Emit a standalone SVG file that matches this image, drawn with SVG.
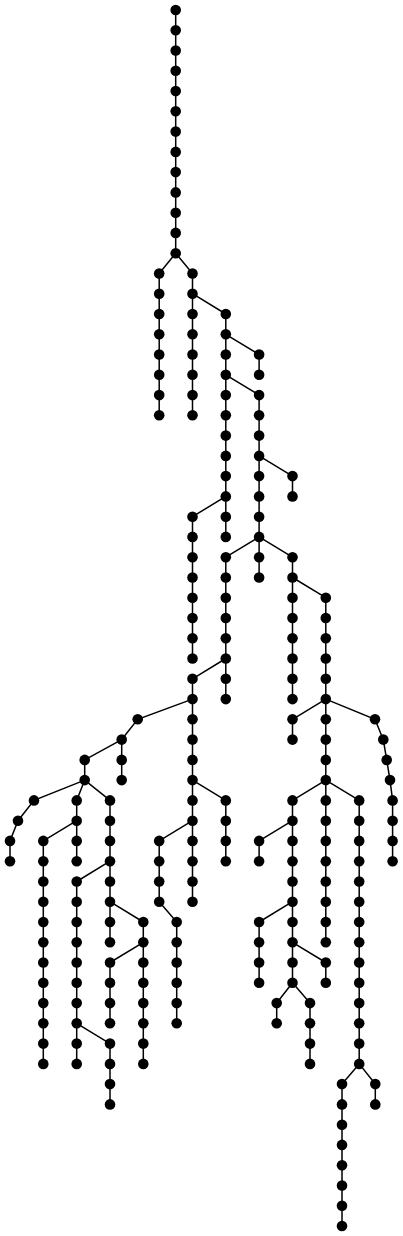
<svg xmlns="http://www.w3.org/2000/svg" width="403" height="1236" viewBox="0 0 403 1236">
<style>
.e path{fill:none;stroke:#000;stroke-width:1.5}
.n circle{fill:#000}
</style>
<rect width="403" height="1236" fill="#fff"/>
<g id="connectors" class="e">
<path d="M175.7,10 V253.2"/>
<path d="M175.7,253.2 L159.2,273.5 V415.3"/>
<path d="M175.7,253.2 L192.5,273.5 V415.3"/>
<path d="M192.5,293.7 L225.8,314 V536.9"/>
<path d="M225.8,334.3 L259.1,354.5 V374.8"/>
<path d="M225.8,374.8 L259.1,395.1 V577.5"/>
<path d="M259.1,455.9 L292.5,476.1 V496.4"/>
<path d="M225.8,496.4 L192.5,516.7 V658.5"/>
<path d="M259.1,536.9 L225.8,557.2 V699.1"/>
<path d="M259.1,536.9 L292.5,557.2 V699.1"/>
<path d="M292.5,577.5 L325.8,597.7 V942.3"/>
<path d="M225.8,658.5 L192.5,678.8 V901.7"/>
<path d="M192.5,780.1 L225.8,800.4 V861.2"/>
<path d="M192.5,820.7 L159.2,840.9 V901.7"/>
<path d="M159.2,901.7 L176.7,922 V1023.3"/>
<path d="M192.5,699.1 L137.7,719.3 L121.7,739.6 V780.1"/>
<path d="M121.7,739.6 L84.7,759.9 V780.1"/>
<path d="M84.7,780.1 L34,800.4 L18,820.7 L10,840.9 V861.2"/>
<path d="M84.7,780.1 L76.7,800.4 V861.2"/>
<path d="M76.7,820.7 L43.3,840.9 V1063.9"/>
<path d="M84.7,780.1 L110,800.4 V942.3"/>
<path d="M110,861.2 L76.7,881.5 V1063.9"/>
<path d="M110,901.7 L143.3,922 V1063.9"/>
<path d="M143.3,942.3 L110,962.5 V1023.3"/>
<path d="M76.7,1023.3 L110,1043.6 V1104.4"/>
<path d="M325.8,699.1 L292.5,719.3 V739.6"/>
<path d="M325.8,699.1 L375,719.3 L383.3,739.6 L386.7,759.9 L390,780.1 L392.6,800.4 V861.2"/>
<path d="M325.8,780.1 L292.5,800.4 V982.8"/>
<path d="M325.8,780.1 L359.2,800.4 V1063.9"/>
<path d="M292.5,820.7 L259.1,840.9 V861.2"/>
<path d="M292.5,901.7 L259.1,922 V982.8"/>
<path d="M292.5,942.3 L325.8,962.5 V982.8"/>
<path d="M292.5,982.8 L276.7,1003.1 V1023.3"/>
<path d="M292.5,982.8 L310,1003.1 V1063.9"/>
<path d="M359.2,1063.9 L342,1084.1 V1226"/>
<path d="M359.2,1063.9 L375.3,1084.1 V1104.4"/>
</g>
<g id="nodes" class="n">
<g id="n1"><circle cx="175.7" cy="10" r="5.3"/></g>
<g id="n2"><circle cx="175.7" cy="30.3" r="5.3"/></g>
<g id="n3"><circle cx="175.7" cy="50.5" r="5.3"/></g>
<g id="n4"><circle cx="175.7" cy="70.8" r="5.3"/></g>
<g id="n5"><circle cx="175.7" cy="91.1" r="5.3"/></g>
<g id="n6"><circle cx="175.7" cy="111.3" r="5.3"/></g>
<g id="n7"><circle cx="175.7" cy="131.6" r="5.3"/></g>
<g id="n8"><circle cx="175.7" cy="151.9" r="5.3"/></g>
<g id="n9"><circle cx="175.7" cy="172.1" r="5.3"/></g>
<g id="n10"><circle cx="175.7" cy="192.4" r="5.3"/></g>
<g id="n11"><circle cx="175.7" cy="212.7" r="5.3"/></g>
<g id="n12"><circle cx="175.7" cy="232.9" r="5.3"/></g>
<g id="n13"><circle cx="175.7" cy="253.2" r="5.3"/></g>
<g id="n14"><circle cx="159.2" cy="273.5" r="5.3"/></g>
<g id="n15"><circle cx="159.2" cy="293.7" r="5.3"/></g>
<g id="n16"><circle cx="159.2" cy="314" r="5.3"/></g>
<g id="n17"><circle cx="159.2" cy="334.3" r="5.3"/></g>
<g id="n18"><circle cx="159.2" cy="354.5" r="5.3"/></g>
<g id="n19"><circle cx="159.2" cy="374.8" r="5.3"/></g>
<g id="n20"><circle cx="159.2" cy="395.1" r="5.3"/></g>
<g id="n21"><circle cx="159.2" cy="415.3" r="5.3"/></g>
<g id="n22"><circle cx="192.5" cy="273.5" r="5.3"/></g>
<g id="n23"><circle cx="192.5" cy="293.7" r="5.3"/></g>
<g id="n24"><circle cx="192.5" cy="314" r="5.3"/></g>
<g id="n25"><circle cx="192.5" cy="334.3" r="5.3"/></g>
<g id="n26"><circle cx="192.5" cy="354.5" r="5.3"/></g>
<g id="n27"><circle cx="192.5" cy="374.8" r="5.3"/></g>
<g id="n28"><circle cx="192.5" cy="395.1" r="5.3"/></g>
<g id="n29"><circle cx="192.5" cy="415.3" r="5.3"/></g>
<g id="n30"><circle cx="225.8" cy="314" r="5.3"/></g>
<g id="n31"><circle cx="225.8" cy="334.3" r="5.3"/></g>
<g id="n32"><circle cx="225.8" cy="354.5" r="5.3"/></g>
<g id="n33"><circle cx="225.8" cy="374.8" r="5.3"/></g>
<g id="n34"><circle cx="225.8" cy="395.1" r="5.3"/></g>
<g id="n35"><circle cx="225.8" cy="415.3" r="5.3"/></g>
<g id="n36"><circle cx="225.8" cy="435.6" r="5.3"/></g>
<g id="n37"><circle cx="225.8" cy="455.9" r="5.3"/></g>
<g id="n38"><circle cx="225.8" cy="476.1" r="5.3"/></g>
<g id="n39"><circle cx="225.8" cy="496.4" r="5.3"/></g>
<g id="n40"><circle cx="225.8" cy="516.7" r="5.3"/></g>
<g id="n41"><circle cx="225.8" cy="536.9" r="5.3"/></g>
<g id="n42"><circle cx="259.1" cy="354.5" r="5.3"/></g>
<g id="n43"><circle cx="259.1" cy="374.8" r="5.3"/></g>
<g id="n44"><circle cx="259.1" cy="395.1" r="5.3"/></g>
<g id="n45"><circle cx="259.1" cy="415.3" r="5.3"/></g>
<g id="n46"><circle cx="259.1" cy="435.6" r="5.3"/></g>
<g id="n47"><circle cx="259.1" cy="455.9" r="5.3"/></g>
<g id="n48"><circle cx="259.1" cy="476.1" r="5.3"/></g>
<g id="n49"><circle cx="259.1" cy="496.4" r="5.3"/></g>
<g id="n50"><circle cx="259.1" cy="516.7" r="5.3"/></g>
<g id="n51"><circle cx="259.1" cy="536.9" r="5.3"/></g>
<g id="n52"><circle cx="259.1" cy="557.2" r="5.3"/></g>
<g id="n53"><circle cx="259.1" cy="577.5" r="5.3"/></g>
<g id="n54"><circle cx="292.5" cy="476.1" r="5.3"/></g>
<g id="n55"><circle cx="292.5" cy="496.4" r="5.3"/></g>
<g id="n56"><circle cx="192.5" cy="516.7" r="5.3"/></g>
<g id="n57"><circle cx="192.5" cy="536.9" r="5.3"/></g>
<g id="n58"><circle cx="192.5" cy="557.2" r="5.3"/></g>
<g id="n59"><circle cx="192.5" cy="577.5" r="5.3"/></g>
<g id="n60"><circle cx="192.5" cy="597.7" r="5.3"/></g>
<g id="n61"><circle cx="192.5" cy="618" r="5.3"/></g>
<g id="n62"><circle cx="192.5" cy="638.3" r="5.3"/></g>
<g id="n63"><circle cx="192.5" cy="658.5" r="5.3"/></g>
<g id="n64"><circle cx="225.8" cy="557.2" r="5.3"/></g>
<g id="n65"><circle cx="225.8" cy="577.5" r="5.3"/></g>
<g id="n66"><circle cx="225.8" cy="597.7" r="5.3"/></g>
<g id="n67"><circle cx="225.8" cy="618" r="5.3"/></g>
<g id="n68"><circle cx="225.8" cy="638.3" r="5.3"/></g>
<g id="n69"><circle cx="225.8" cy="658.5" r="5.3"/></g>
<g id="n70"><circle cx="225.8" cy="678.8" r="5.3"/></g>
<g id="n71"><circle cx="225.8" cy="699.1" r="5.3"/></g>
<g id="n72"><circle cx="292.5" cy="557.2" r="5.3"/></g>
<g id="n73"><circle cx="292.5" cy="577.5" r="5.3"/></g>
<g id="n74"><circle cx="292.5" cy="597.7" r="5.3"/></g>
<g id="n75"><circle cx="292.5" cy="618" r="5.3"/></g>
<g id="n76"><circle cx="292.5" cy="638.3" r="5.3"/></g>
<g id="n77"><circle cx="292.5" cy="658.5" r="5.3"/></g>
<g id="n78"><circle cx="292.5" cy="678.8" r="5.3"/></g>
<g id="n79"><circle cx="292.5" cy="699.1" r="5.3"/></g>
<g id="n80"><circle cx="325.8" cy="597.7" r="5.3"/></g>
<g id="n81"><circle cx="325.8" cy="618" r="5.3"/></g>
<g id="n82"><circle cx="325.8" cy="638.3" r="5.3"/></g>
<g id="n83"><circle cx="325.8" cy="658.5" r="5.3"/></g>
<g id="n84"><circle cx="325.8" cy="678.8" r="5.3"/></g>
<g id="n85"><circle cx="325.8" cy="699.1" r="5.3"/></g>
<g id="n86"><circle cx="325.8" cy="719.3" r="5.3"/></g>
<g id="n87"><circle cx="325.8" cy="739.6" r="5.3"/></g>
<g id="n88"><circle cx="325.8" cy="759.9" r="5.3"/></g>
<g id="n89"><circle cx="325.8" cy="780.1" r="5.3"/></g>
<g id="n90"><circle cx="325.8" cy="800.4" r="5.3"/></g>
<g id="n91"><circle cx="325.8" cy="820.7" r="5.3"/></g>
<g id="n92"><circle cx="325.8" cy="840.9" r="5.3"/></g>
<g id="n93"><circle cx="325.8" cy="861.2" r="5.3"/></g>
<g id="n94"><circle cx="325.8" cy="881.5" r="5.3"/></g>
<g id="n95"><circle cx="325.8" cy="901.7" r="5.3"/></g>
<g id="n96"><circle cx="325.8" cy="922" r="5.3"/></g>
<g id="n97"><circle cx="325.8" cy="942.3" r="5.3"/></g>
<g id="n98"><circle cx="192.5" cy="678.8" r="5.3"/></g>
<g id="n99"><circle cx="192.5" cy="699.1" r="5.3"/></g>
<g id="n100"><circle cx="192.5" cy="719.3" r="5.3"/></g>
<g id="n101"><circle cx="192.5" cy="739.6" r="5.3"/></g>
<g id="n102"><circle cx="192.5" cy="759.9" r="5.3"/></g>
<g id="n103"><circle cx="192.5" cy="780.1" r="5.3"/></g>
<g id="n104"><circle cx="192.5" cy="800.4" r="5.3"/></g>
<g id="n105"><circle cx="192.5" cy="820.7" r="5.3"/></g>
<g id="n106"><circle cx="192.5" cy="840.9" r="5.3"/></g>
<g id="n107"><circle cx="192.5" cy="861.2" r="5.3"/></g>
<g id="n108"><circle cx="192.5" cy="881.5" r="5.3"/></g>
<g id="n109"><circle cx="192.5" cy="901.7" r="5.3"/></g>
<g id="n110"><circle cx="225.8" cy="800.4" r="5.3"/></g>
<g id="n111"><circle cx="225.8" cy="820.7" r="5.3"/></g>
<g id="n112"><circle cx="225.8" cy="840.9" r="5.3"/></g>
<g id="n113"><circle cx="225.8" cy="861.2" r="5.3"/></g>
<g id="n114"><circle cx="159.2" cy="840.9" r="5.3"/></g>
<g id="n115"><circle cx="159.2" cy="861.2" r="5.3"/></g>
<g id="n116"><circle cx="159.2" cy="881.5" r="5.3"/></g>
<g id="n117"><circle cx="159.2" cy="901.7" r="5.3"/></g>
<g id="n118"><circle cx="176.7" cy="922" r="5.3"/></g>
<g id="n119"><circle cx="176.7" cy="942.3" r="5.3"/></g>
<g id="n120"><circle cx="176.7" cy="962.5" r="5.3"/></g>
<g id="n121"><circle cx="176.7" cy="982.8" r="5.3"/></g>
<g id="n122"><circle cx="176.7" cy="1003.1" r="5.3"/></g>
<g id="n123"><circle cx="176.7" cy="1023.3" r="5.3"/></g>
<g id="n124"><circle cx="137.7" cy="719.3" r="5.3"/></g>
<g id="n125"><circle cx="121.7" cy="739.6" r="5.3"/></g>
<g id="n126"><circle cx="121.7" cy="759.9" r="5.3"/></g>
<g id="n127"><circle cx="121.7" cy="780.1" r="5.3"/></g>
<g id="n128"><circle cx="84.7" cy="759.9" r="5.3"/></g>
<g id="n129"><circle cx="84.7" cy="780.1" r="5.3"/></g>
<g id="n130"><circle cx="34" cy="800.4" r="5.3"/></g>
<g id="n131"><circle cx="18" cy="820.7" r="5.3"/></g>
<g id="n132"><circle cx="10" cy="840.9" r="5.3"/></g>
<g id="n133"><circle cx="10" cy="861.2" r="5.3"/></g>
<g id="n134"><circle cx="76.7" cy="800.4" r="5.3"/></g>
<g id="n135"><circle cx="76.7" cy="820.7" r="5.3"/></g>
<g id="n136"><circle cx="76.7" cy="840.9" r="5.3"/></g>
<g id="n137"><circle cx="76.7" cy="861.2" r="5.3"/></g>
<g id="n138"><circle cx="43.3" cy="840.9" r="5.3"/></g>
<g id="n139"><circle cx="43.3" cy="861.2" r="5.3"/></g>
<g id="n140"><circle cx="43.3" cy="881.5" r="5.3"/></g>
<g id="n141"><circle cx="43.3" cy="901.7" r="5.3"/></g>
<g id="n142"><circle cx="43.3" cy="922" r="5.3"/></g>
<g id="n143"><circle cx="43.3" cy="942.3" r="5.3"/></g>
<g id="n144"><circle cx="43.3" cy="962.5" r="5.3"/></g>
<g id="n145"><circle cx="43.3" cy="982.8" r="5.3"/></g>
<g id="n146"><circle cx="43.3" cy="1003.1" r="5.3"/></g>
<g id="n147"><circle cx="43.3" cy="1023.3" r="5.3"/></g>
<g id="n148"><circle cx="43.3" cy="1043.6" r="5.3"/></g>
<g id="n149"><circle cx="43.3" cy="1063.9" r="5.3"/></g>
<g id="n150"><circle cx="110" cy="800.4" r="5.3"/></g>
<g id="n151"><circle cx="110" cy="820.7" r="5.3"/></g>
<g id="n152"><circle cx="110" cy="840.9" r="5.3"/></g>
<g id="n153"><circle cx="110" cy="861.2" r="5.3"/></g>
<g id="n154"><circle cx="110" cy="881.5" r="5.3"/></g>
<g id="n155"><circle cx="110" cy="901.7" r="5.3"/></g>
<g id="n156"><circle cx="110" cy="922" r="5.3"/></g>
<g id="n157"><circle cx="110" cy="942.3" r="5.3"/></g>
<g id="n158"><circle cx="76.7" cy="881.5" r="5.3"/></g>
<g id="n159"><circle cx="76.7" cy="901.7" r="5.3"/></g>
<g id="n160"><circle cx="76.7" cy="922" r="5.3"/></g>
<g id="n161"><circle cx="76.7" cy="942.3" r="5.3"/></g>
<g id="n162"><circle cx="76.7" cy="962.5" r="5.3"/></g>
<g id="n163"><circle cx="76.7" cy="982.8" r="5.3"/></g>
<g id="n164"><circle cx="76.7" cy="1003.1" r="5.3"/></g>
<g id="n165"><circle cx="76.7" cy="1023.3" r="5.3"/></g>
<g id="n166"><circle cx="76.7" cy="1043.6" r="5.3"/></g>
<g id="n167"><circle cx="76.7" cy="1063.9" r="5.3"/></g>
<g id="n168"><circle cx="143.3" cy="922" r="5.3"/></g>
<g id="n169"><circle cx="143.3" cy="942.3" r="5.3"/></g>
<g id="n170"><circle cx="143.3" cy="962.5" r="5.3"/></g>
<g id="n171"><circle cx="143.3" cy="982.8" r="5.3"/></g>
<g id="n172"><circle cx="143.3" cy="1003.1" r="5.3"/></g>
<g id="n173"><circle cx="143.3" cy="1023.3" r="5.3"/></g>
<g id="n174"><circle cx="143.3" cy="1043.6" r="5.3"/></g>
<g id="n175"><circle cx="143.3" cy="1063.9" r="5.3"/></g>
<g id="n176"><circle cx="110" cy="962.5" r="5.3"/></g>
<g id="n177"><circle cx="110" cy="982.8" r="5.3"/></g>
<g id="n178"><circle cx="110" cy="1003.1" r="5.3"/></g>
<g id="n179"><circle cx="110" cy="1023.3" r="5.3"/></g>
<g id="n180"><circle cx="110" cy="1043.6" r="5.3"/></g>
<g id="n181"><circle cx="110" cy="1063.9" r="5.3"/></g>
<g id="n182"><circle cx="110" cy="1084.1" r="5.3"/></g>
<g id="n183"><circle cx="110" cy="1104.4" r="5.3"/></g>
<g id="n184"><circle cx="292.5" cy="719.3" r="5.3"/></g>
<g id="n185"><circle cx="292.5" cy="739.6" r="5.3"/></g>
<g id="n186"><circle cx="375" cy="719.3" r="5.3"/></g>
<g id="n187"><circle cx="383.3" cy="739.6" r="5.3"/></g>
<g id="n188"><circle cx="386.7" cy="759.9" r="5.3"/></g>
<g id="n189"><circle cx="390" cy="780.1" r="5.3"/></g>
<g id="n190"><circle cx="392.6" cy="800.4" r="5.3"/></g>
<g id="n191"><circle cx="392.6" cy="820.7" r="5.3"/></g>
<g id="n192"><circle cx="392.6" cy="840.9" r="5.3"/></g>
<g id="n193"><circle cx="392.6" cy="861.2" r="5.3"/></g>
<g id="n194"><circle cx="292.5" cy="800.4" r="5.3"/></g>
<g id="n195"><circle cx="292.5" cy="820.7" r="5.3"/></g>
<g id="n196"><circle cx="292.5" cy="840.9" r="5.3"/></g>
<g id="n197"><circle cx="292.5" cy="861.2" r="5.3"/></g>
<g id="n198"><circle cx="292.5" cy="881.5" r="5.3"/></g>
<g id="n199"><circle cx="292.5" cy="901.7" r="5.3"/></g>
<g id="n200"><circle cx="292.5" cy="922" r="5.3"/></g>
<g id="n201"><circle cx="292.5" cy="942.3" r="5.3"/></g>
<g id="n202"><circle cx="292.5" cy="962.5" r="5.3"/></g>
<g id="n203"><circle cx="292.5" cy="982.8" r="5.3"/></g>
<g id="n204"><circle cx="359.2" cy="800.4" r="5.3"/></g>
<g id="n205"><circle cx="359.2" cy="820.7" r="5.3"/></g>
<g id="n206"><circle cx="359.2" cy="840.9" r="5.3"/></g>
<g id="n207"><circle cx="359.2" cy="861.2" r="5.3"/></g>
<g id="n208"><circle cx="359.2" cy="881.5" r="5.3"/></g>
<g id="n209"><circle cx="359.2" cy="901.7" r="5.3"/></g>
<g id="n210"><circle cx="359.2" cy="922" r="5.3"/></g>
<g id="n211"><circle cx="359.2" cy="942.3" r="5.3"/></g>
<g id="n212"><circle cx="359.2" cy="962.5" r="5.3"/></g>
<g id="n213"><circle cx="359.2" cy="982.8" r="5.3"/></g>
<g id="n214"><circle cx="359.2" cy="1003.1" r="5.3"/></g>
<g id="n215"><circle cx="359.2" cy="1023.3" r="5.3"/></g>
<g id="n216"><circle cx="359.2" cy="1043.6" r="5.3"/></g>
<g id="n217"><circle cx="359.2" cy="1063.9" r="5.3"/></g>
<g id="n218"><circle cx="259.1" cy="840.9" r="5.3"/></g>
<g id="n219"><circle cx="259.1" cy="861.2" r="5.3"/></g>
<g id="n220"><circle cx="259.1" cy="922" r="5.3"/></g>
<g id="n221"><circle cx="259.1" cy="942.3" r="5.3"/></g>
<g id="n222"><circle cx="259.1" cy="962.5" r="5.3"/></g>
<g id="n223"><circle cx="259.1" cy="982.8" r="5.3"/></g>
<g id="n224"><circle cx="325.8" cy="962.5" r="5.3"/></g>
<g id="n225"><circle cx="325.8" cy="982.8" r="5.3"/></g>
<g id="n226"><circle cx="276.7" cy="1003.1" r="5.3"/></g>
<g id="n227"><circle cx="276.7" cy="1023.3" r="5.3"/></g>
<g id="n228"><circle cx="310" cy="1003.1" r="5.3"/></g>
<g id="n229"><circle cx="310" cy="1023.3" r="5.3"/></g>
<g id="n230"><circle cx="310" cy="1043.6" r="5.3"/></g>
<g id="n231"><circle cx="310" cy="1063.9" r="5.3"/></g>
<g id="n232"><circle cx="342" cy="1084.1" r="5.3"/></g>
<g id="n233"><circle cx="342" cy="1104.4" r="5.3"/></g>
<g id="n234"><circle cx="342" cy="1124.7" r="5.3"/></g>
<g id="n235"><circle cx="342" cy="1144.9" r="5.3"/></g>
<g id="n236"><circle cx="342" cy="1165.2" r="5.3"/></g>
<g id="n237"><circle cx="342" cy="1185.5" r="5.3"/></g>
<g id="n238"><circle cx="342" cy="1205.7" r="5.3"/></g>
<g id="n239"><circle cx="342" cy="1226" r="5.3"/></g>
<g id="n240"><circle cx="375.3" cy="1084.1" r="5.3"/></g>
<g id="n241"><circle cx="375.3" cy="1104.4" r="5.3"/></g>
</g>
</svg>
